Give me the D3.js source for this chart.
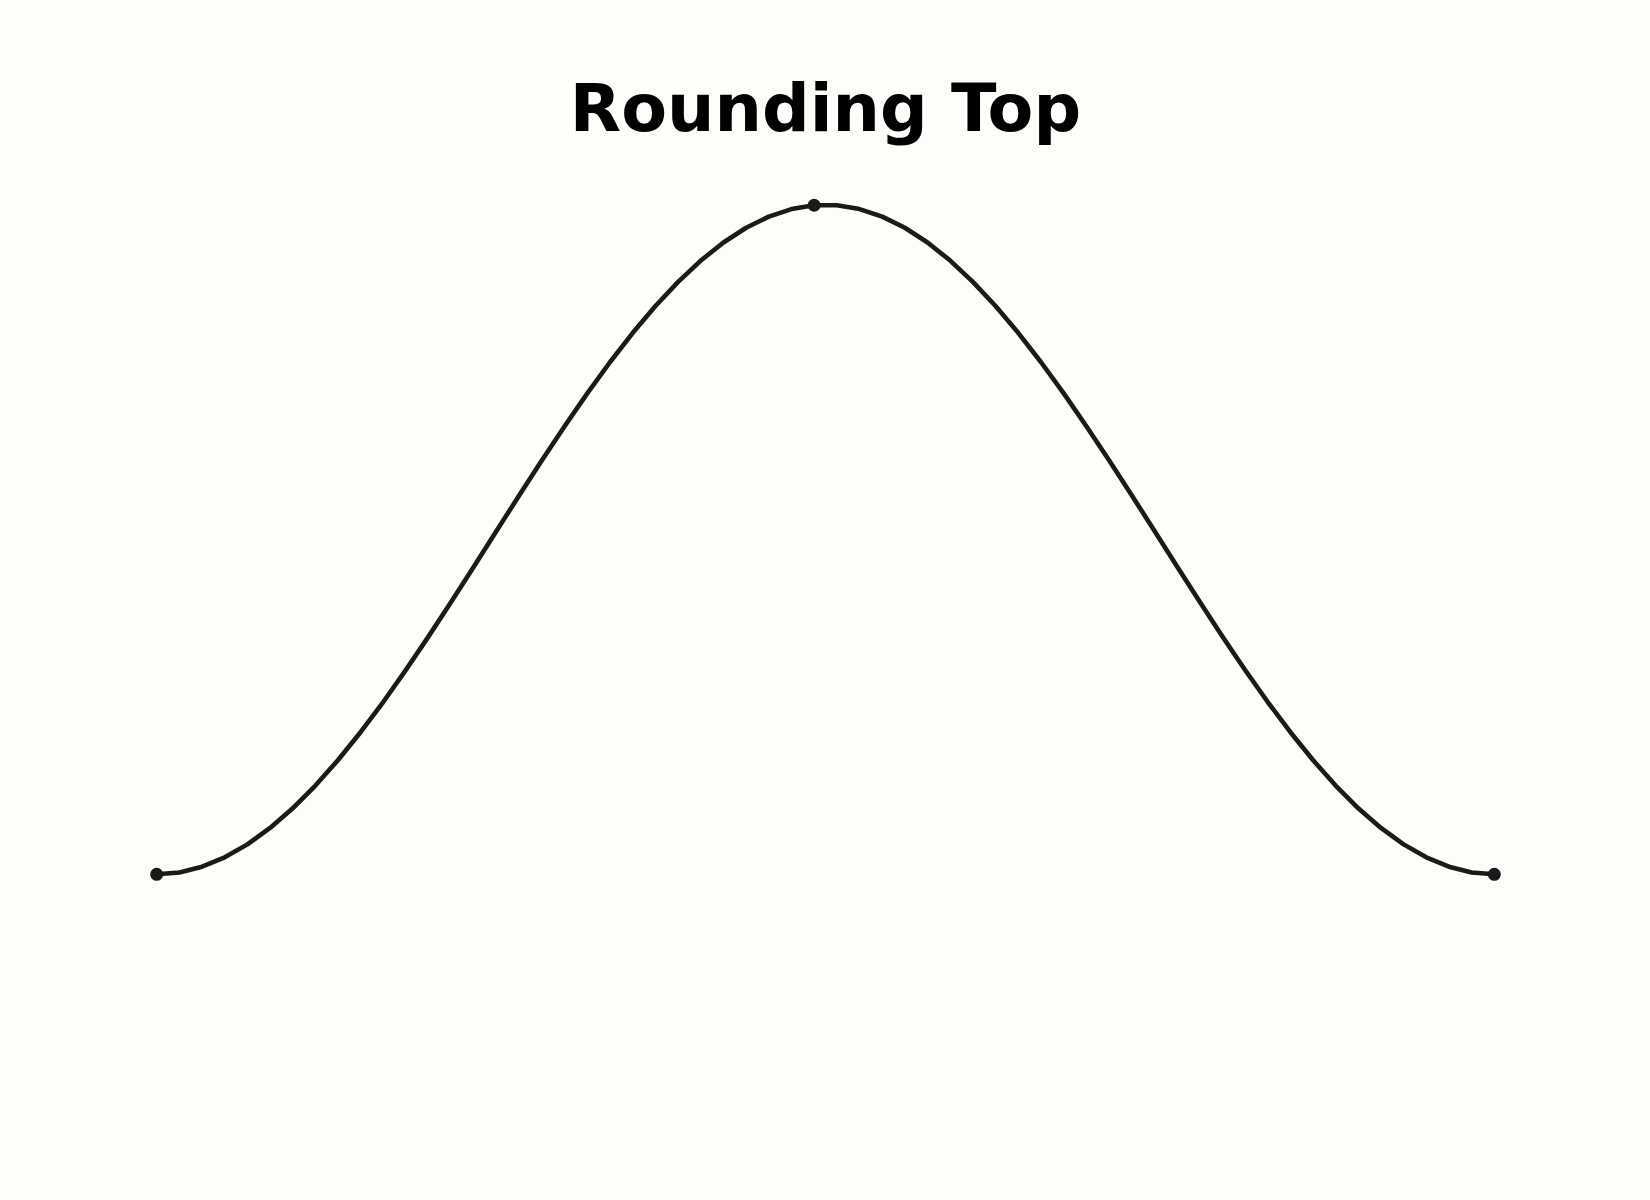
<!DOCTYPE html>
<html>
<head>
<meta charset="utf-8">
<script src="https://cdn.jsdelivr.net/npm/d3@7"></script>
<style>
  html, body { margin: 0; padding: 0; background: #fdfdf9; }
  svg { display: block; }
</style>
</head>
<body>
<script>
// price path, 0 = left/right base, 100 = top
const prices = [
  0.00, 0.28, 1.13, 2.53, 4.47, 6.92, 9.86, 13.26, 17.07, 21.26,
  25.77, 30.56, 35.57, 40.74, 46.01, 51.34, 56.66, 61.87, 66.96, 71.87,
  76.52, 80.88, 84.88, 88.49, 91.67, 94.37, 96.57, 98.24, 99.36, 99.93,
  99.93, 99.36, 98.24, 96.57, 94.37, 91.67, 88.49, 84.88, 80.88, 76.52,
  71.87, 66.96, 61.87, 56.66, 51.34, 46.01, 40.74, 35.57, 30.56, 25.77,
  21.26, 17.07, 13.26, 9.86, 6.92, 4.47, 2.53, 1.13, 0.28, 0.00,
];
const title = 'Rounding Top';

const width = 1650;
const height = 1200;
const margin = { left: 156.7, right: 155.7, top: 204.8, bottom: 325.7 };

const svg = d3
  .select('body')
  .append('svg')
  .attr('width', width)
  .attr('height', height);

svg
  .append('rect')
  .attr('width', width)
  .attr('height', height)
  .attr('fill', '#fdfdf9');

const x = d3
  .scaleLinear()
  .domain([0, prices.length - 1])
  .range([margin.left, width - margin.right]);

const y = d3
  .scaleLinear()
  .domain([0, 100])
  .range([height - margin.bottom, margin.top]);

const line = d3
  .line()
  .x((d, i) => x(i))
  .y((d) => y(d));

svg
  .append('path')
  .datum(prices)
  .attr('d', line)
  .attr('fill', 'none')
  .attr('stroke', '#1a1a1a')
  .attr('stroke-width', 4.6)
  .attr('stroke-linejoin', 'round')
  .attr('stroke-linecap', 'butt');

// markers on start, top and end
const peak = d3.maxIndex(prices);
const keyPoints = [0, peak, prices.length - 1];

svg
  .append('g')
  .selectAll('circle')
  .data(keyPoints)
  .join('circle')
  .attr('cx', (i) => x(i))
  .attr('cy', (i) => y(prices[i]))
  .attr('r', 6.5)
  .attr('fill', '#1a1a1a');

svg
  .append('text')
  .attr('x', (margin.left + width - margin.right) / 2)
  .attr('y', 131)
  .attr('text-anchor', 'middle')
  .attr('font-family', 'DejaVu Sans')
  .attr('font-weight', 'bold')
  .attr('font-size', 66.7)
  .attr('fill', '#000')
  .text(title);
</script>
</body>
</html>
